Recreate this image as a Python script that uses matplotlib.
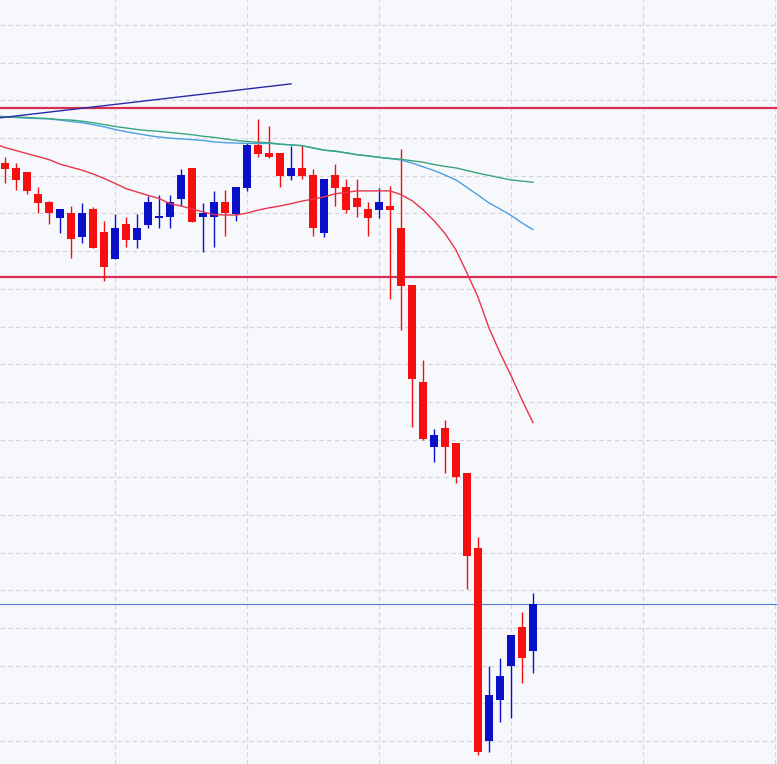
import matplotlib
matplotlib.use("Agg")
import matplotlib.pyplot as plt
from matplotlib.ticker import MultipleLocator
import numpy as np

# ---- data (prices, arbitrary units) ----
opens = [115.34, 115.21, 115.10, 114.52, 114.30, 113.89, 114.00, 113.38, 114.12, 113.51,
         112.80, 113.71, 113.30, 113.70, 113.88, 113.90, 114.39, 115.20, 113.90, 113.90,
         114.30, 113.99, 114.67, 115.82, 115.61, 115.61, 115.00, 115.21, 115.02, 113.49,
         115.02, 114.69, 114.40, 114.12, 114.10, 114.20, 113.61, 112.10, 109.52, 107.81,
         108.31, 107.90, 107.11, 105.13, 100.01, 101.10, 102.00, 103.03, 102.40]
highs = [115.50, 115.34, 115.11, 114.70, 114.32, 114.12, 114.20, 114.29, 114.18, 113.80,
         113.99, 113.91, 113.98, 114.46, 114.49, 114.49, 115.17, 115.21, 114.28, 114.60,
         114.62, 114.70, 115.87, 116.52, 116.32, 115.61, 115.80, 115.82, 115.18, 114.92,
         115.31, 114.92, 114.92, 114.30, 114.68, 114.72, 115.70, 112.10, 110.11, 108.28,
         108.52, 107.90, 107.11, 105.42, 101.99, 102.21, 102.81, 103.43, 103.92]
lows = [114.81, 114.62, 114.52, 114.01, 113.72, 113.49, 112.83, 113.21, 113.08, 112.22,
        112.79, 113.12, 113.08, 113.61, 113.61, 113.61, 114.19, 113.77, 112.99, 113.10,
        113.40, 113.79, 114.60, 115.51, 115.47, 114.71, 114.90, 114.92, 113.40, 113.38,
        114.21, 114.01, 113.91, 113.40, 113.89, 111.72, 110.91, 108.33, 108.00, 107.41,
        107.12, 106.84, 104.03, 99.63, 99.72, 100.51, 100.60, 101.55, 101.81]
closes = [115.18, 114.89, 114.60, 114.28, 114.01, 114.12, 113.31, 114.00, 113.09, 112.59,
          113.61, 113.30, 113.61, 114.30, 113.93, 114.30, 115.01, 113.78, 114.00, 114.30,
          114.00, 114.70, 115.82, 115.59, 115.49, 115.00, 115.20, 115.00, 113.61, 114.92,
          114.68, 114.10, 114.18, 113.89, 114.30, 114.09, 112.08, 109.60, 108.01, 108.12,
          107.81, 107.01, 104.90, 99.72, 101.22, 101.73, 102.81, 102.21, 103.63]

# moving averages, first value sits one bar before the first candle
ma_short = [115.86, 115.75, 115.67, 115.59, 115.51, 115.43, 115.31, 115.23, 115.15, 115.05,
            114.93, 114.80, 114.66, 114.57, 114.48, 114.40, 114.26, 114.20, 114.12, 114.04,
            113.97, 113.96, 113.96, 114.01, 114.09, 114.15, 114.20, 114.26, 114.33, 114.38,
            114.44, 114.52, 114.56, 114.60, 114.60, 114.60, 114.60, 114.50, 114.34, 114.10,
            113.81, 113.47, 113.03, 112.42, 111.78, 110.96, 110.30, 109.70, 109.05, 108.45]
ma_mid = [116.59, 116.56, 116.55, 116.53, 116.52, 116.51, 116.48, 116.44, 116.41, 116.36,
          116.30, 116.23, 116.17, 116.12, 116.07, 116.03, 116.00, 115.98, 115.96, 115.94,
          115.90, 115.88, 115.87, 115.86, 115.86, 115.86, 115.84, 115.82, 115.80, 115.74,
          115.68, 115.66, 115.61, 115.56, 115.53, 115.49, 115.46, 115.42, 115.34, 115.24,
          115.14, 115.02, 114.89, 114.69, 114.49, 114.28, 114.12, 113.95, 113.75, 113.57]
ma_long = [116.59, 116.57, 116.56, 116.55, 116.53, 116.52, 116.49, 116.48, 116.45, 116.41,
           116.36, 116.31, 116.27, 116.23, 116.20, 116.18, 116.15, 116.12, 116.09, 116.05,
           116.02, 115.98, 115.94, 115.91, 115.89, 115.88, 115.84, 115.82, 115.80, 115.74,
           115.68, 115.65, 115.61, 115.56, 115.53, 115.49, 115.46, 115.44, 115.40, 115.36,
           115.30, 115.25, 115.21, 115.14, 115.07, 115.01, 114.95, 114.89, 114.86, 114.83]

resistance = 116.79
support = 112.32
last_price = 103.63
trend_x = [-1, 26]
trend_y = [116.52, 117.44]

# ---- styling ----
BG = "#f6f8fc"
RED = "#f50f0f"
BLUE = "#0a0fc8"

fig = plt.figure(figsize=(7.77, 7.64), dpi=100)
fig.patch.set_facecolor(BG)
ax = fig.add_axes([0, 0, 1, 1])
ax.set_facecolor(BG)

n = len(opens)
x = np.arange(n)
o = np.array(opens); c = np.array(closes)
h = np.array(highs); l = np.array(lows)
up = c >= o
colors = np.where(up, BLUE, RED)

ax.vlines(x, l, h, colors=colors, linewidth=1.0, zorder=3)
bottoms = np.minimum(o, c)
heights = np.maximum(np.abs(c - o), 0.03)
ax.bar(x, heights, bottom=bottoms, width=0.8, color=colors, edgecolor="none", zorder=4)

xm = np.arange(-1, n)
ax.plot(xm, ma_short, color="#e8344c", linewidth=1.0, zorder=5)
ax.plot(xm, ma_mid, color="#4c9fe3", linewidth=1.0, zorder=5)
ax.plot(xm, ma_long, color="#3aa57a", linewidth=1.0, zorder=5)

ax.axhline(resistance, color="#dc2d55", linewidth=1.6, zorder=2)
ax.axhline(support, color="#dc2d55", linewidth=1.6, zorder=2)
ax.axhline(last_price, color="#4f7fd6", linewidth=0.8, zorder=2)
ax.plot(trend_x, trend_y, color="#2a2aa8", linewidth=1.0, zorder=5)

ax.set_xlim(-0.4545, 70.18)
ax.set_ylim(99.39, 119.666)
ax.xaxis.set_major_locator(MultipleLocator(12))
ax.set_xticks(np.arange(10, 71, 12))
ax.yaxis.set_major_locator(MultipleLocator(1))
ax.grid(True, color="#d2d3db", linestyle=(0, (4, 3)), linewidth=0.8, zorder=0)
ax.set_axisbelow(True)
ax.tick_params(left=False, bottom=False, labelleft=False, labelbottom=False)
for s in ax.spines.values():
    s.set_visible(False)

fig.savefig("out.png", dpi=100, facecolor=BG)
